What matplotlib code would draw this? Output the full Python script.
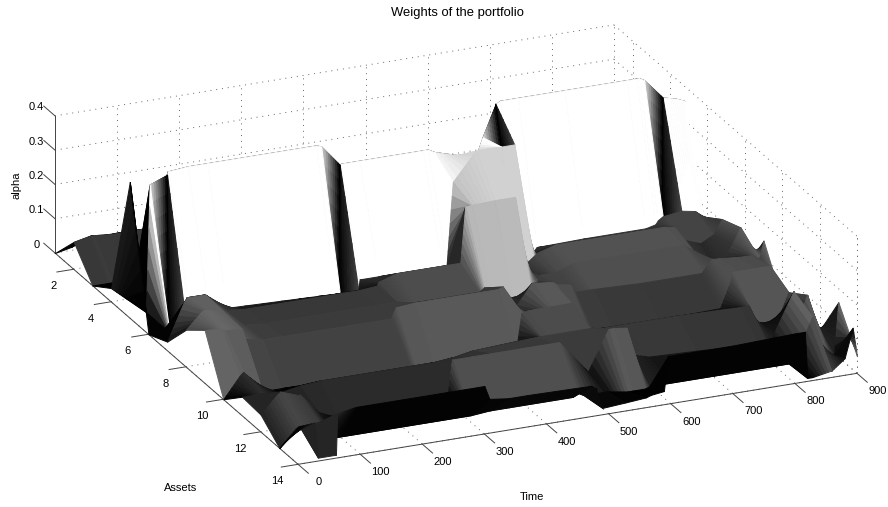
import matplotlib
matplotlib.use("Agg")
import matplotlib.pyplot as plt
import numpy as np
from mpl_toolkits.mplot3d import proj3d
from mpl_toolkits.mplot3d.art3d import Poly3DCollection

plt.rcParams['font.family'] = ['Liberation Sans', 'DejaVu Sans']

time_steps = [0, 26, 32, 60, 61, 63, 93, 125, 300, 308, 338, 340, 370, 472, 480, 490,
              527, 560, 568, 589, 596, 625, 700, 800, 816, 820, 828, 858, 859, 880, 893, 900]

# weights, one list per asset, one value per time step
asset_01 = [0, .01, .023, .03, .03, .03, .03, .03, 0, 0, 0, 0, 0, 0, 0, 0,
            0, 0, 0, 0, 0, 0, 0, 0, 0, 0, 0, 0, 0, 0, 0, 0]
asset_02 = [.08, .09, .09, .085, .085, .085, .085, .085, 0, 0, 0, 0, 0, 0, 0, 0,
            0, 0, 0, 0, 0, 0, 0, 0, 0, 0, 0, 0, 0, 0, 0, 0]
asset_03 = [0, 0, 0, 0, 0, 0, 0, 0, 0, 0, 0, 0, 0, 0, 0, 0,
            0, 0, 0, 0, 0, 0, 0, 0, 0, 0, 0, 0, 0, 0, 0, 0]
asset_04 = [.04, 0, 0, 0, 0, 0, 0, 0, 0, 0, 0, 0, 0, 0, 0, 0,
            0, 0, 0, 0, 0, 0, 0, 0, 0, 0, 0, 0, 0, 0, 0, 0]
asset_05 = [.397, .01, .38, .40, .41, .41, .415, .415, .415, .41, .347, .35, .35, .35, .35, .34,
            .32, .32, .36, .45, .458, .458, .458, .458, .458, .458, .45, .39, .39, .38, .37, .2]
asset_06 = [0, .01, .02, .02, .09, .09, .087, .04, .03, .03, .03, .06, .06, .06, .06, .3,
            .38, .38, .38, .38, .01, .07, .073, .073, .08, .09, .1, .107, .107, .1, .08, .02]
asset_07 = [.026, .13, .146, .146, .146, .14, .09, .085, .085, .085, .09, .1, .117, .117, .28, .28,
            .283, .283, .07, .1, .11, .125, .125, .125, .12, .1, .08, .06, .06, .08, .12, .03]
asset_08 = [.108, .155, .157, .143, .14, .13, .095, .09, .09, .09, .09, .08, .08, .08, .09, .08,
            .03, .01, .1, .1, .1, .12, .12, .12, .1, .08, .06, .03, .03, .1, .143, .02]
asset_09 = [.155, .15, .145, .14, .12, .11, .1, .1, .1, .13, .135, .135, .135, .135, .14, .05,
            .137, .13, .12, .114, .09, .09, .085, .085, .12, .12, .12, .115, .115, .113, .1, .15]
asset_10 = [0, .06, .07, .02, .01, .005, .005, .005, .005, .005, .005, .005, .005, .01, .11, .115,
            .116, .116, .05, .02, .02, .025, .026, .03, .1, .13, .13, .13, .13, .13, .08, .02]
asset_11 = [.055, .055, .055, .05, .05, .05, .06, .065, .065, .065, .07, .07, .08, .09, .09, .09,
            .09, .09, .085, .085, .085, .085, .085, .08, .08, .06, .03, .01, .01, .1, .03, .02]
asset_12 = [.05, .1, .108, .09, .09, .09, .03, .005, .005, .12, .12, .12, .12, .12, .12, .1,
            .02, .135, .135, .13, .05, .035, .03, .02, .01, .01, .05, .157, .05, .14, .05, .03]
asset_13 = [0, .05, .055, .057, .057, .057, .005, .005, .005, .005, .01, .01, .01, .01, .02, .01,
            .01, 0, 0, 0, .005, .005, .005, .005, .005, .005, .01, .13, .09, .02, .01, .16]
asset_14 = [.11, .114, .01, .01, .01, .13, .14, .14, .14, .1, .093, .093, .093, .09, .08, .02,
            .025, .03, .035, .04, .14, .14, .14, .146, .146, .01, .01, .02, .02, .05, .135, .05]

asset_rows = [asset_01, asset_02, asset_03, asset_04, asset_05, asset_06, asset_07,
              asset_08, asset_09, asset_10, asset_11, asset_12, asset_13, asset_14]

time_ticks = [0, 100, 200, 300, 400, 500, 600, 700, 800, 900]
asset_ticks = [2, 4, 6, 8, 10, 12, 14]
alpha_ticks = [0, 0.1, 0.2, 0.3, 0.4]
alpha_labels = ['0', '0.1', '0.2', '0.3', '0.4']

# the narrow spikes on asset 5: index of the column where each one tops out
spike_columns = [3, 10, 19, 27]

W, H = 888, 507
GRID = '#666666'
AXIS = '#444444'
DOTS = (0, (1, 5))


def gray(value):
    g = float(np.interp(value, [0, .28, .32, .345], [0, .72, .82, 1]))
    return (g, g, g)


def add_face(ax, verts, color, order):
    face = Poly3DCollection([verts], facecolors=[color], edgecolors=[color],
                            linewidths=0.7, zorder=order)
    ax.add_collection3d(face, autolim=False)
    face.set_clip_on(False)


def add_shaded_triangle(ax, verts, vals, order):
    # small triangles, so the gray runs smoothly between the three corners
    n = 8
    p = np.array(verts, dtype=float)
    v = np.array(vals, dtype=float)
    for i in range(n):
        for j in range(n - i):
            cells = [[(i, j), (i + 1, j), (i, j + 1)]]
            if i + j < n - 1:
                cells.append([(i + 1, j), (i + 1, j + 1), (i, j + 1)])
            for cell in cells:
                w = np.array([[1 - (a + b) / n, a / n, b / n] for a, b in cell])
                add_face(ax, [tuple(x) for x in w @ p], gray((w @ v).mean()), order)
                order += 1
    return order


def draw_surface(ax, t, z, c):
    # far assets first, and inside one asset the late times first
    order = 10
    for a in range(z.shape[0] - 1):
        for j in range(z.shape[1] - 2, -1, -1):
            if a == 4 and (j + 1) in spike_columns:
                p1 = (t[j], a + 1, z[a, j])
                p2 = (t[j + 1], a + 1, z[a, j + 1])
                p3 = (t[j + 1], a + 2, z[a + 1, j + 1])
                p4 = (t[j], a + 2, z[a + 1, j])
                order = add_shaded_triangle(ax, [p2, p3, p4], [.03, .1, .0], order)
                order = add_shaded_triangle(ax, [p1, p2, p4], [.345, .0, .0], order)
                ax.plot(*zip(p2, p4), color='black', lw=0.7, zorder=order, clip_on=False)
                order += 1
                continue
            z1, z2 = z[a, j], z[a, j + 1]
            z3, z4 = z[a + 1, j], z[a + 1, j + 1]
            c1, c2 = c[a, j], c[a, j + 1]
            parts = 6 if abs(c1 - c2) > 0.01 else 1
            for p in range(parts - 1, -1, -1):
                u0, u1 = p / parts, (p + 1) / parts
                ta, tb = t[j] + u0 * (t[j + 1] - t[j]), t[j] + u1 * (t[j + 1] - t[j])
                verts = [(ta, a + 1, z1 + u0 * (z2 - z1)),
                         (tb, a + 1, z1 + u1 * (z2 - z1)),
                         (tb, a + 2, z3 + u1 * (z4 - z3)),
                         (ta, a + 2, z3 + u0 * (z4 - z3))]
                add_face(ax, verts, gray(c1 + (u0 + u1) / 2 * (c2 - c1)), order)
                order += 1


def line(ax, xs, ys, zs, color=GRID, ls=DOTS, lw=0.7):
    ax.plot(xs, ys, zs, color=color, ls=ls, lw=lw, zorder=1, clip_on=False)


def draw_box(ax):
    for t in time_ticks:
        line(ax, [t, t], [1, 14], [0, 0])
        line(ax, [t, t], [1, 1], [0, 0.4])
        line(ax, [t, t], [14, 14.55], [0, 0], AXIS, '-')
    for a in asset_ticks:
        line(ax, [0, 900], [a, a], [0, 0])
        line(ax, [900, 900], [a, a], [0, 0.4])
        line(ax, [-27, 0], [a, a], [0, 0], AXIS, '-')
    for v in alpha_ticks:
        line(ax, [0, 900], [1, 1], [v, v])
        line(ax, [900, 900], [1, 14], [v, v])
        line(ax, [0, 0], [0.4, 1], [v, v], AXIS, '-')
    line(ax, [900, 900], [14, 14], [0, 0.4])
    line(ax, [0, 0], [1, 1], [0, 0.4], AXIS, '-')
    line(ax, [0, 0], [1, 14], [0, 0], AXIS, '-')
    line(ax, [0, 900], [14, 14], [0, 0], AXIS, '-')


def to_pixels(ax, t, a, v):
    xs, ys, _ = proj3d.proj_transform(t, a, v, ax.get_proj())
    return ax.transData.transform((xs, ys))


def fit_axes(ax):
    # move the square axes until two floor corners land where they should
    left, bottom, side = 0.0, -100.0, 800.0
    for i in range(4):
        ax.set_position([left / W, bottom / H, side / W, side / H])
        ax.apply_aspect()
        p0 = to_pixels(ax, 0, 1, 0)
        p1 = to_pixels(ax, 900, 14, 0)
        scale = (857 - 55) / (p1[0] - p0[0])
        side = side * scale
        ax.set_position([left / W, bottom / H, side / W, side / H])
        ax.apply_aspect()
        p0 = to_pixels(ax, 0, 1, 0)
        left += 55 - p0[0]
        bottom += (H - 253) - p0[1]


def tick_text(ax, t, a, v, label):
    px = to_pixels(ax, t, a, v)
    fig.text(px[0] / W, px[1] / H, label, fontsize=8, ha='center', va='center')


fig = plt.figure(figsize=(W / 100, H / 100), dpi=100)
ax = fig.add_subplot(projection='3d', proj_type='ortho', computed_zorder=False)
ax.set_axis_off()
ax.patch.set_alpha(0)
ax.set_xlim(0, 900)
ax.set_ylim(14, 1)
ax.set_zlim(0, 0.4)
ax.set_xticks([])
ax.set_yticks([])
ax.set_zticks([])
ax.set_box_aspect((609, 612, 148))
ax.view_init(elev=22.1, azim=-113.4)
fit_axes(ax)

weights = np.array(asset_rows)
shades = weights.copy()
shades[4, 0] = 0  # first spike of asset 5 is black from the top
shades[5, 16:20] = .32  # the tall block on asset 6 is lighter than its height gives

draw_box(ax)
draw_surface(ax, time_steps, weights, shades)

for t in time_ticks:
    tick_text(ax, t, 15.1, 0, str(t))
for a in asset_ticks:
    tick_text(ax, -33, a, -0.04, str(a))
for v, s in zip(alpha_ticks, alpha_labels):
    tick_text(ax, 0, 0, v - 0.023, s)

fig.text(457 / W, 1 - 13 / H, 'Weights of the portfolio', fontsize=9.4, ha='center', va='center')
fig.text(181 / W, 1 - 488 / H, 'Assets', fontsize=8, ha='center', va='center')
fig.text(532 / W, 1 - 497 / H, 'Time', fontsize=8, ha='center', va='center')
fig.text(17 / W, 1 - 185 / H, 'alpha', fontsize=8, ha='center', va='center', rotation=90)

fig.savefig('out.png', dpi=100)
